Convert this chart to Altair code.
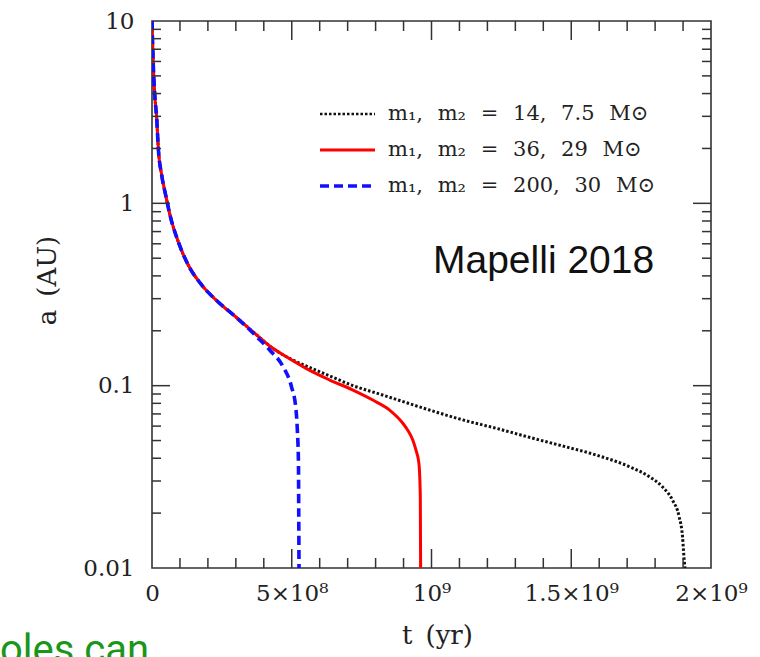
import altair as alt
import pandas as pd

# ---- data (t in units of 1e9 yr, a in AU) ----
t_black = [0.0, 0.0046, 0.0107, 0.0168, 0.0225, 0.0346, 0.0489, 0.0643, 0.0939, 0.1296,
           0.1775, 0.232, 0.296, 0.374, 0.421, 0.481, 0.5525, 0.636, 0.719, 0.814, 0.993,
           1.112, 1.231, 1.35, 1.469, 1.588, 1.707, 1.779, 1.826, 1.862, 1.886, 1.898,
           1.904, 1.907]
a_black = [10.0, 5.74, 3.78, 2.94, 2.01, 1.43, 1.11, 0.863, 0.616, 0.459,
           0.357, 0.292, 0.241, 0.190, 0.165, 0.144, 0.128, 0.113, 0.100, 0.090, 0.0735,
           0.0649, 0.0584, 0.0521, 0.0467, 0.0417, 0.0360, 0.0317, 0.0279, 0.0236, 0.0191, 0.0149,
           0.0111, 0.0100]

t_red = [0.0, 0.0046, 0.0107, 0.0168, 0.0225, 0.0346, 0.0489, 0.0643, 0.0939, 0.1296,
         0.1775, 0.232, 0.296, 0.374, 0.421, 0.481, 0.5525, 0.636, 0.719, 0.790, 0.850,
         0.8975, 0.915, 0.933, 0.945, 0.955, 0.960, 0.961]
a_red = [10.0, 5.74, 3.78, 2.94, 2.01, 1.43, 1.11, 0.863, 0.616, 0.459,
         0.357, 0.292, 0.241, 0.190, 0.165, 0.144, 0.124, 0.1074, 0.0946, 0.0834, 0.0735,
         0.0622, 0.057, 0.0504, 0.044, 0.0375, 0.0246, 0.0100]

t_blue = [0.0, 0.0046, 0.0107, 0.0168, 0.0225, 0.0346, 0.0489, 0.0643, 0.0939, 0.1296,
          0.1775, 0.232, 0.296, 0.332, 0.374, 0.421, 0.469, 0.499, 0.514, 0.520, 0.524,
          0.525, 0.526]
a_blue = [10.0, 5.74, 3.78, 2.94, 2.01, 1.43, 1.11, 0.863, 0.616, 0.459,
          0.357, 0.292, 0.241, 0.215, 0.186, 0.157, 0.127, 0.0987, 0.0767, 0.0571, 0.0377,
          0.0200, 0.0100]

SP = "\u2002\u2009"
legend_labels = [f"m\u2081,{SP}m\u2082{SP}={SP}14,{SP}7.5{SP}M\u2299",
                 f"m\u2081,{SP}m\u2082{SP}={SP}36,{SP}29{SP}M\u2299",
                 f"m\u2081,{SP}m\u2082{SP}={SP}200,{SP}30{SP}M\u2299"]

x_tick_vals = [0.0, 0.5, 1.0, 1.5, 2.0]
x_tick_text = ["0", "5×10⁸", "10⁹", "1.5×10⁹", "2×10⁹"]
x_minor = [0.1, 0.2, 0.3, 0.4, 0.6, 0.7, 0.8, 0.9, 1.1, 1.2, 1.3, 1.4, 1.6, 1.7, 1.8, 1.9]
x_major = [0.5, 1.0, 1.5]

y_tick_vals = [0.01, 0.1, 1.0, 10.0]
y_tick_text = ["0.01", "0.1", "1", "10"]
y_minor = [0.02, 0.03, 0.04, 0.05, 0.06, 0.07, 0.08, 0.09,
           0.2, 0.3, 0.4, 0.5, 0.6, 0.7, 0.8, 0.9,
           2, 3, 4, 5, 6, 7, 8, 9]
y_major = [0.1, 1.0]

# ---- layout / style ----
W, H = 559, 547
SERIF = "DejaVu Serif"
TICK = "#333333"

def expr_from(vals, texts):
    e = "''"
    for v, s in reversed(list(zip(vals, texts))):
        e = f"abs(datum.value - {v}) < {v * 1e-6 + 1e-9} ? '{s}' : " + e
    return e

xscale = alt.Scale(domain=[0, 2], nice=False, zero=False)
yscale = alt.Scale(type="log", domain=[0.01, 10], nice=False)

xaxis = alt.Axis(values=x_tick_vals, labelExpr=expr_from(x_tick_vals, x_tick_text),
                 ticks=False, tickSize=0, domain=False, grid=False,
                 labelFont=SERIF, labelFontSize=23, labelColor="#222", labelPadding=14,
                 labelFlush=False, labelOverlap=False,
                 title="t\u2002(yr)", titleFont=SERIF, titleFontSize=26, titleFontWeight="normal",
                 titleColor="#222", titleX=285, titleY=67, titleBaseline="middle", titleAlign="center")
yaxis = alt.Axis(values=y_tick_vals, labelExpr=expr_from(y_tick_vals, y_tick_text),
                 ticks=False, tickSize=0, domain=False, grid=False,
                 labelFont=SERIF, labelFontSize=23, labelColor="#222", labelPadding=18,
                 labelFlush=False, labelOverlap=False,
                 title="a\u2002(AU)", titleFont=SERIF, titleFontSize=26, titleFontWeight="normal",
                 titleColor="#222", titleX=-105, titleY=259, titleAngle=270,
                 titleBaseline="middle", titleAlign="center")

X = alt.X("t:Q", scale=xscale, axis=xaxis)
Y = alt.Y("a:Q", scale=yscale, axis=yaxis)

def series(t, a, color, width, dash=None):
    df = pd.DataFrame({"t": t, "a": a, "i": list(range(len(t)))})
    kw = dict(color=color, strokeWidth=width, clip=True, interpolate="monotone")
    if dash:
        kw["strokeDash"] = dash
    return alt.Chart(df).mark_line(**kw).encode(x=X, y=Y, order="i:Q")

black = series(t_black, a_black, "#111111", 3, [2.5, 2])
red = series(t_red, a_red, "#ff0000", 3)
blue = series(t_blue, a_blue, "#1010ff", 3.6, [9, 5])

def xticks(vals, length, side):
    enc = dict(x=X)
    if side == "bottom":
        enc.update(y=alt.value(H), y2=alt.value(H - length))
    else:
        enc.update(y=alt.value(0), y2=alt.value(length))
    return alt.Chart(pd.DataFrame({"t": vals})).mark_rule(color=TICK, strokeWidth=1.5).encode(**enc)

def yticks(vals, length, side):
    enc = dict(y=Y)
    if side == "left":
        enc.update(x=alt.value(0), x2=alt.value(length))
    else:
        enc.update(x=alt.value(W - length), x2=alt.value(W))
    return alt.Chart(pd.DataFrame({"a": vals})).mark_rule(color=TICK, strokeWidth=1.5).encode(**enc)

ticks = [
    xticks(x_minor, 10, "bottom"), xticks(x_major, 19, "bottom"),
    xticks(x_minor, 10, "top"), xticks(x_major, 19, "top"),
    yticks(y_minor, 9, "left"), yticks(y_major, 18, "left"),
    yticks(y_minor, 9, "right"), yticks(y_major, 18, "right"),
]

# legend (drawn inside the plot, top right)
leg_styles = [("#111111", 2.4, [2.5, 2]), ("#ff0000", 3, None), ("#1010ff", 3.6, [9, 5])]
legend_layers = []
for i, (lab, (col, wd, dash)) in enumerate(zip(legend_labels, leg_styles)):
    yy = 93 + 36 * i
    kw = dict(color=col, strokeWidth=wd)
    if dash:
        kw["strokeDash"] = dash
    legend_layers.append(
        alt.Chart(pd.DataFrame({"k": [0]})).mark_rule(**kw).encode(
            x=alt.value(168), x2=alt.value(223), y=alt.value(yy)))
    legend_layers.append(
        alt.Chart(pd.DataFrame({"label": [lab]})).mark_text(
            align="left", baseline="middle", font=SERIF, fontSize=21, color="#222").encode(
            text="label:N", x=alt.value(236), y=alt.value(yy)))

note = alt.Chart(pd.DataFrame({"label": ["Mapelli 2018"]})).mark_text(
    align="left", baseline="alphabetic", font="Liberation Sans", fontSize=39, color="#111").encode(
    text="label:N", x=alt.value(281), y=alt.value(252))

green = alt.Chart(pd.DataFrame({"label": ["oles can"]})).mark_text(
    align="left", baseline="alphabetic", font="Roboto", fontSize=40, color="#1a961a").encode(
    text="label:N", x=alt.value(-152), y=alt.value(642))

chart = alt.layer(black, red, blue, *ticks, *legend_layers, note, green).properties(
    width=W, height=H,
    autosize=alt.AutoSizeParams(type="none"),
    padding={"left": 152, "top": 21, "right": 49, "bottom": 89},
    background="white",
).configure_view(stroke="#333333", strokeWidth=1.6)

chart.save("out.html", embed_options={"renderer": "svg", "actions": False})
